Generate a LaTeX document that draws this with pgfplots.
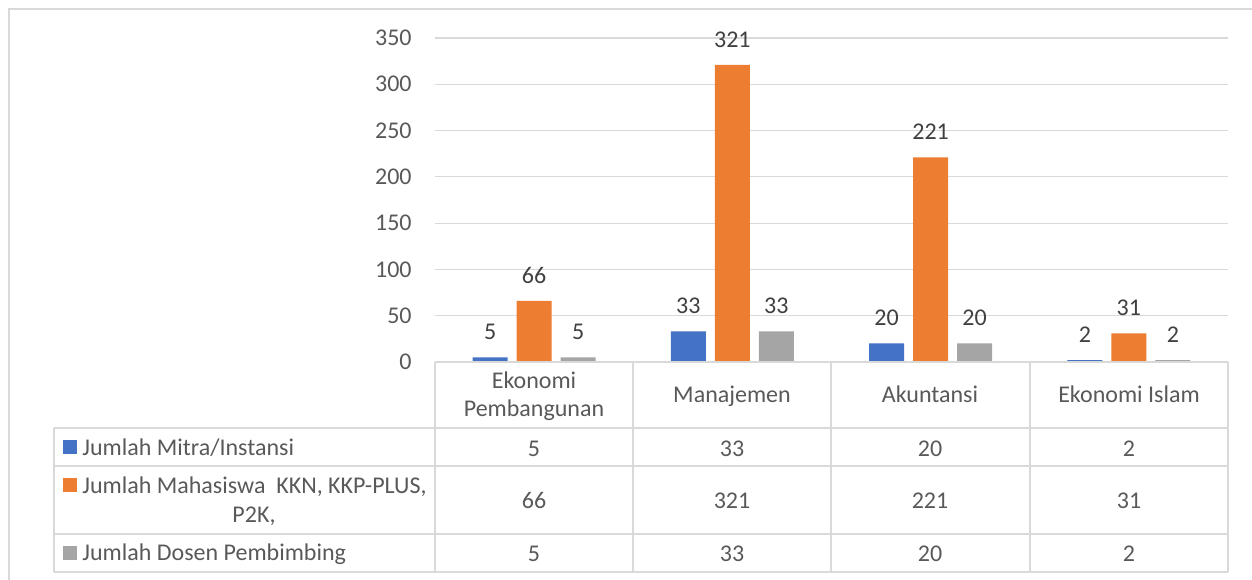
\documentclass[border=0pt]{standalone}
\usepackage{pgfplots}
\pgfplotsset{compat=1.18}
\usepackage{fontspec}
\setmainfont{Carlito}
\definecolor{cblue}{HTML}{4472C4}
\definecolor{corange}{HTML}{ED7D31}
\definecolor{cgray}{HTML}{A5A5A5}
\definecolor{gridc}{HTML}{D9D9D9}
\definecolor{tickc}{HTML}{595959}
\definecolor{labc}{HTML}{404040}
\newcommand{\fs}{\fontsize{12}{14}\selectfont}
\begin{document}
\begin{tikzpicture}
\useasboundingbox (0pt,0pt) rectangle (626pt,289.5pt);
\begin{axis}[
 at={(217.5pt,108.5pt)}, anchor=south west, scale only axis,
 width=396.5pt, height=162pt,
 xmin=-0.5, xmax=3.5, ymin=0, ymax=350,
 xtick=\empty, ytick={0,50,...,350},
 axis line style={draw=none}, major tick length=0pt,
 ymajorgrids, grid style={line width=0.6pt, draw=gridc},
 yticklabel style={font=\fs, text=tickc, inner sep=0pt, xshift=-11.5pt},
 ybar, bar width=17.5pt,
 nodes near coords,
 every node near coord/.append style={font=\fs, text=labc, anchor=base, inner sep=0pt, yshift=8.75pt},
 /pgf/number format/assume math mode=true,
 clip=false,
]
\addplot[fill=cblue, draw=none, bar shift=-22pt] coordinates {(0,5) (1,33) (2,20) (3,2)};
\addplot[fill=corange, draw=none, bar shift=0pt] coordinates {(0,66) (1,321) (2,221) (3,31)};
\addplot[fill=cgray, draw=none, bar shift=22pt] coordinates {(0,5) (1,33) (2,20) (3,2)};
\end{axis}
\begin{scope}[x=0.5pt,y=-0.5pt,shift={(0pt,289.5pt)}]
 % outer frame
 \draw[gridc, line width=0.75pt] (9,9) rectangle (1275,600);
 % table lines
 \begin{scope}[gridc, line width=0.75pt]
  \draw (435,362) -- (1228,362);
  \foreach \y in {428,466,534,572} \draw (54,\y) -- (1228,\y);
  \draw (54,428) -- (54,572);
  \foreach \x in {435,633,831,1030,1228} \draw (\x,362) -- (\x,572);
 \end{scope}
 \begin{scope}[every node/.style={font=\fs, text=tickc, inner sep=0pt}]
  % header
  \node[anchor=base] at (534,388) {Ekonomi};
  \node[anchor=base] at (534,416) {Pembangunan};
  \node[anchor=base] at (732,402) {Manajemen};
  \node[anchor=base] at (930,402) {Akuntansi};
  \node[anchor=base] at (1129,402) {Ekonomi Islam};
  % legend column
  \fill[cblue] (63,440) rectangle (77,454);
  \fill[corange] (63,478) rectangle (77,492);
  \fill[cgray] (63,546) rectangle (77,560);
  \node[anchor=base west] at (82,455) {Jumlah Mitra/Instansi};
  \node[anchor=base west] at (82,493) {Jumlah Mahasiswa\ \ KKN, KKP-PLUS,};
  \node[anchor=base] at (254,522) {P2K,};
  \node[anchor=base west] at (82,560) {Jumlah Dosen Pembimbing};
  % values
  \foreach \x/\a/\b/\c in {534/5/66/5, 732/33/321/33, 930/20/221/20, 1129/2/31/2}{
   \node[anchor=base] at (\x,456) {\a};
   \node[anchor=base] at (\x,508) {\b};
   \node[anchor=base] at (\x,561) {\c};
  }
 \end{scope}
\end{scope}
\end{tikzpicture}
\end{document}
